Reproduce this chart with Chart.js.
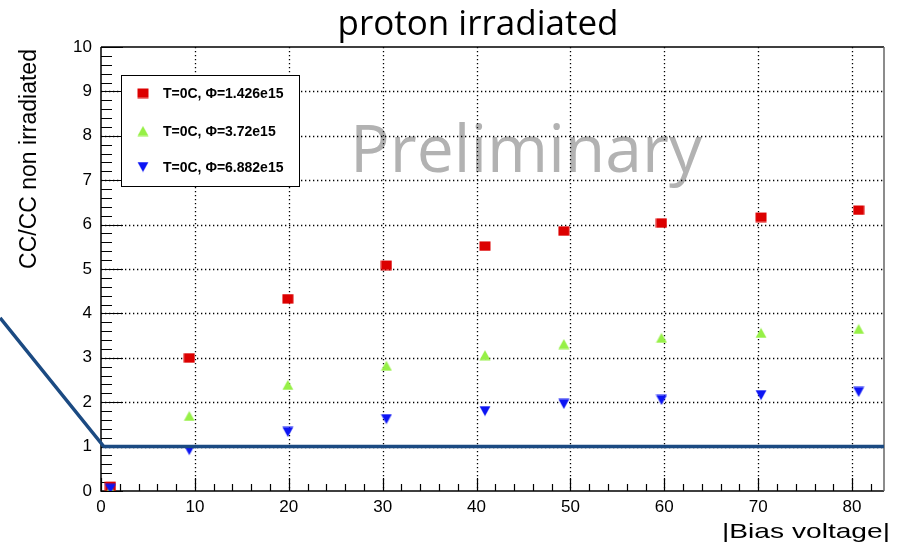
<!DOCTYPE html>
<html>
<head>
<meta charset="utf-8">
<script src="https://cdn.jsdelivr.net/npm/chart.js@4.4.0/dist/chart.umd.min.js"></script>
<style>
    html, body { margin: 0; padding: 0; background: #fff; }
    #wrap { width: 898px; height: 543px; }
</style>
</head>
<body>
<div id="wrap"><canvas id="chart" width="898" height="543"></canvas></div>
<script>
// bias voltage of each measurement
const biasVoltage = [1, 9.4, 19.9, 30.4, 40.9, 49.3, 59.7, 70.3, 80.7];
// CC / CC non irradiated, one array per fluence
const ccPhi1 = [0.11, 3.00, 4.33, 5.09, 5.52, 5.86, 6.04, 6.17, 6.33];
const ccPhi2 = [0.03, 1.69, 2.39, 2.82, 3.06, 3.31, 3.45, 3.56, 3.65];
const ccPhi3 = [0.05, 0.92, 1.33, 1.62, 1.80, 1.96, 2.05, 2.16, 2.23];
const seriesLabels = ['T=0C, \u03A6=1.426e15', 'T=0C, \u03A6=3.72e15', 'T=0C, \u03A6=6.882e15'];
const seriesColors = ['#dc0000', '#96f046', '#0c14f4'];
// the hand drawn guide line (slide annotation)
const guideX = [-10.75, 0.3, 83.4];
const guideY = [3.9, 1, 1];
const xRange = [0, 83.4];
const yRange = [0, 10];

const SANS = '"Liberation Sans", Arial, sans-serif';

function marker(kind, color) {
    const c = document.createElement('canvas');
    c.width = 12; c.height = 11;
    const g = c.getContext('2d');
    g.fillStyle = color;
    g.beginPath();
    if (kind === 'square') g.rect(0.5, 1, 11, 9.5);
    else if (kind === 'up') { g.moveTo(6, 0.5); g.lineTo(11.5, 10.5); g.lineTo(0.5, 10.5); }
    else { g.moveTo(0.5, 0.5); g.lineTo(11.5, 0.5); g.lineTo(6, 10.5); }
    g.closePath();
    g.fill();
    return c;
}
const markers = [marker('square', seriesColors[0]), marker('up', seriesColors[1]), marker('down', seriesColors[2])];

const pts = ys => biasVoltage.map((v, i) => ({ x: v, y: ys[i] }));

const rootStyle = {
    id: 'rootStyle',
    beforeDatasetsDraw(chart) {
        const { ctx, chartArea: a, scales: { x, y } } = chart;
        ctx.save();

        // watermark, sits under the grid dots
        ctx.fillStyle = '#b2b2b2';
        ctx.font = '66px "Open Sans", sans-serif';
        ctx.textAlign = 'left';
        ctx.textBaseline = 'alphabetic';
        ctx.fillText('Preliminary', 350, 172);

        // dotted grid at major ticks
        ctx.strokeStyle = '#000';
        ctx.lineWidth = 1.3;
        ctx.setLineDash([1.3, 2.7]);
        ctx.beginPath();
        x.ticks.forEach(t => {
            if (t.value <= xRange[0]) return;
            const px = Math.round(x.getPixelForValue(t.value)) + 0.5;
            ctx.moveTo(px, a.top); ctx.lineTo(px, a.bottom);
        });
        y.ticks.forEach(t => {
            if (t.value <= yRange[0] || t.value >= yRange[1]) return;
            const py = Math.round(y.getPixelForValue(t.value)) + 0.5;
            ctx.moveTo(a.left, py); ctx.lineTo(a.right, py);
        });
        ctx.stroke();
        ctx.setLineDash([]);

        // frame
        ctx.lineWidth = 1.5;
        ctx.strokeStyle = '#000';
        ctx.beginPath();
        ctx.moveTo(a.left, a.top); ctx.lineTo(a.right, a.top);
        ctx.moveTo(a.left, a.top); ctx.lineTo(a.left, a.bottom); ctx.lineTo(a.right, a.bottom);
        ctx.stroke();
        ctx.strokeStyle = '#666';
        ctx.beginPath();
        ctx.moveTo(a.right, a.top); ctx.lineTo(a.right, a.bottom);
        ctx.stroke();

        // ticks pointing inwards, ROOT style
        ctx.strokeStyle = '#000';
        ctx.lineWidth = 1.2;
        ctx.beginPath();
        for (let v = yRange[0]; v <= yRange[1] + 1e-6; v += 0.2) {
            const major = Math.abs(v - Math.round(v)) < 1e-6;
            const py = Math.round(y.getPixelForValue(v)) + 0.5;
            ctx.moveTo(a.left, py); ctx.lineTo(a.left + (major ? 22 : 11), py);
        }
        for (let v = xRange[0]; v <= xRange[1]; v += 2) {
            const major = v % 10 === 0;
            const px = Math.round(x.getPixelForValue(v)) + 0.5;
            ctx.moveTo(px, a.bottom); ctx.lineTo(px, a.bottom - (major ? 13 : 7));
        }
        ctx.stroke();
        ctx.restore();
    },
    afterDraw(chart) {
        const { ctx } = chart;
        ctx.save();

        // title
        ctx.fillStyle = '#000';
        ctx.font = '35px "Open Sans", sans-serif';
        ctx.textAlign = 'center';
        ctx.textBaseline = 'alphabetic';
        ctx.fillText('proton irradiated', 478, 35);

        // y axis title
        ctx.save();
        ctx.translate(36, 159);
        ctx.rotate(-Math.PI / 2);
        ctx.font = '23px ' + SANS;
        ctx.fillText('CC/CC non irradiated', 0, 0);
        ctx.restore();

        // x axis title, stretched like the source image
        ctx.save();
        ctx.font = '21px ' + SANS;
        const label = '|Bias voltage|';
        const sx = 168 / ctx.measureText(label).width;
        ctx.translate(890, 538);
        ctx.scale(sx, 1);
        ctx.textAlign = 'right';
        ctx.fillText(label, 0, 0);
        ctx.restore();

        // legend box
        ctx.fillStyle = '#fff';
        ctx.fillRect(121, 75, 178, 111);
        ctx.strokeStyle = '#000';
        ctx.lineWidth = 1;
        ctx.strokeRect(121.5, 75.5, 178, 111);
        const rows = [93, 131, 167];
        ctx.font = 'bold 14px ' + SANS;
        ctx.textAlign = 'left';
        ctx.textBaseline = 'middle';
        rows.forEach((ry, i) => {
            const m = markers[i];
            ctx.drawImage(m, 143 - m.width / 2, ry - m.height / 2);
            ctx.fillStyle = '#000';
            ctx.fillText(seriesLabels[i], 163, ry + 1);
        });
        ctx.restore();
    }
};

new Chart(document.getElementById('chart'), {
    type: 'scatter',
    data: {
        datasets: [
            {
                label: 'guide',
                data: guideX.map((v, i) => ({ x: v, y: guideY[i] })),
                showLine: true,
                borderColor: '#1b4a82',
                borderWidth: 3.5,
                pointRadius: 0,
                clip: false,
                order: 1,
            },
            { label: seriesLabels[0], data: pts(ccPhi1), pointStyle: markers[0], order: 4 },
            { label: seriesLabels[1], data: pts(ccPhi2), pointStyle: markers[1], order: 3 },
            { label: seriesLabels[2], data: pts(ccPhi3), pointStyle: markers[2], order: 2 },
        ],
    },
    options: {
        responsive: false,
        animation: false,
        layout: { padding: { top: 47, right: 14, left: 0, bottom: 0 } },
        plugins: { legend: { display: false }, tooltip: { enabled: false }, title: { display: false } },
        scales: {
            x: {
                type: 'linear',
                min: xRange[0], max: xRange[1],
                grid: { display: false, drawTicks: false, tickLength: 0 },
                border: { display: false },
                ticks: { stepSize: 10, includeBounds: false, autoSkip: false, maxRotation: 0, padding: 6, color: '#000', font: { family: SANS, size: 17 } },
                afterFit(s) { s.height = 52; },
            },
            y: {
                type: 'linear',
                min: yRange[0], max: yRange[1],
                grid: { display: false, drawTicks: false, tickLength: 0 },
                border: { display: false },
                ticks: { stepSize: 1, autoSkip: false, padding: 9, color: '#000', font: { family: SANS, size: 17 } },
                afterFit(s) { s.width = 101; },
            },
        },
    },
    plugins: [rootStyle],
});
</script>
</body>
</html>
